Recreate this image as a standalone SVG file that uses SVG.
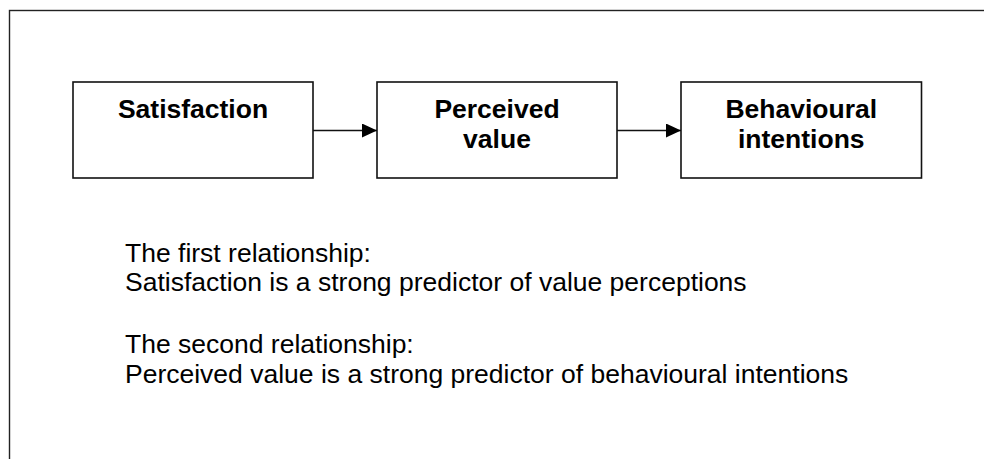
<svg xmlns="http://www.w3.org/2000/svg" width="984" height="459" viewBox="0 0 984 459">
<style>
.box{fill:#fff;stroke:#111;stroke-width:1.6}
.lbl{font-family:"Liberation Sans",Arial,sans-serif;font-weight:bold;font-size:26.5px;fill:#000;text-anchor:middle}
.body{font-family:"Liberation Sans",Arial,sans-serif;font-size:26.5px;fill:#000}
.conn{stroke:#111;stroke-width:1.6;fill:none}
</style>
<defs>
<marker id="ah" markerWidth="15" markerHeight="14" refX="15" refY="7" orient="auto" markerUnits="userSpaceOnUse">
<path d="M0,0 L15,7 L0,14 Z" fill="#000"/>
</marker>
</defs>
<rect x="9.5" y="10.5" width="1000" height="500" fill="#fff" stroke="#222" stroke-width="1.4"/>
<g id="satisfaction">
<rect class="box" x="73" y="82" width="240" height="96"/>
<text class="lbl" x="193" y="118.3">Satisfaction</text>
</g>
<g id="perceived-value">
<rect class="box" x="377" y="82" width="240" height="96"/>
<text class="lbl" x="497" y="118.3">Perceived</text>
<text class="lbl" x="497" y="148.3">value</text>
</g>
<g id="behavioural-intentions">
<rect class="box" x="681" y="82" width="240.5" height="96"/>
<text class="lbl" x="801.3" y="118.3">Behavioural</text>
<text class="lbl" x="801.3" y="148.3">intentions</text>
</g>
<g id="connectors">
<line class="conn" x1="313" y1="130.5" x2="377" y2="130.5" marker-end="url(#ah)"/>
<line class="conn" x1="617" y1="130.5" x2="681" y2="130.5" marker-end="url(#ah)"/>
</g>
<g id="notes">
<text class="body" x="125" y="261.7">The first relationship:</text>
<text class="body" x="125" y="291.3">Satisfaction is a strong predictor of value perceptions</text>
<text class="body" x="125" y="353.3">The second relationship:</text>
<text class="body" x="125" y="383.3">Perceived value is a strong predictor of behavioural intentions</text>
</g>
</svg>
